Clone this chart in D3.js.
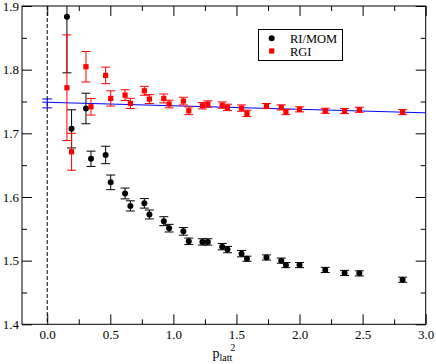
<!DOCTYPE html>
<html>
<head>
<meta charset="utf-8">
<script src="https://cdn.jsdelivr.net/npm/d3@7"></script>
<style>
  body { margin: 0; background: #fff; }
  svg { display: block; }
  text { font-family: "Liberation Serif", "Times New Roman", serif; fill: #000; }
</style>
</head>
<body>
<svg id="chart"></svg>
<script>
//================ DATA =========================
// p_latt^2 positions shared by both data sets
const pLatt2 = [0.156, 0.193, 0.307, 0.347, 0.463, 0.503, 0.617, 0.659, 0.770, 0.810,
                0.924, 0.966, 1.079, 1.122, 1.230, 1.273, 1.387, 1.429, 1.540, 1.583,
                1.738, 1.855, 1.892, 2.000, 2.204, 2.357, 2.474, 2.817];

const momY = [1.883, 1.707, 1.739, 1.660, 1.666, 1.623, 1.6055, 1.586, 1.590, 1.5725,
              1.562, 1.551, 1.546, 1.5305, 1.5294, 1.5294, 1.522, 1.5174, 1.511, 1.503,
              1.505, 1.500, 1.493, 1.493, 1.4854, 1.4807, 1.480, 1.470];
const momErr = [0.088, 0.030, 0.024, 0.012, 0.0137, 0.0115, 0.0085, 0.008, 0.0075, 0.007,
                0.007, 0.006, 0.006, 0.005, 0.005, 0.005, 0.005, 0.005, 0.005, 0.004,
                0.004, 0.004, 0.004, 0.004, 0.004, 0.004, 0.004, 0.004];

const rgiY = [1.7716, 1.671, 1.8046, 1.7417, 1.791, 1.7548, 1.760, 1.747, 1.7668, 1.7538,
              1.7548, 1.746, 1.7506, 1.7354, 1.7433, 1.746, 1.7443, 1.7407, 1.7396, 1.7313,
              1.7428, 1.7407, 1.7333, 1.7376, 1.7354, 1.7349, 1.737, 1.7333];
const rgiErr = [0.083, 0.029, 0.024, 0.013, 0.013, 0.012, 0.0084, 0.008, 0.007, 0.007,
                0.007, 0.006, 0.006, 0.006, 0.005, 0.005, 0.005, 0.005, 0.005, 0.005,
                0.004, 0.004, 0.004, 0.004, 0.004, 0.004, 0.004, 0.004];

// linear fit of RGI and its extrapolation to p^2 = 0
const fitX = [-0.04, 3.0];
const fitY = [1.7490, 1.7322];
const extrap = {x: 0, y: 1.747, err: 0.007};

const xTicks = [0.0, 0.5, 1.0, 1.5, 2.0, 2.5, 3.0];
const yTicks = [1.4, 1.5, 1.6, 1.7, 1.8, 1.9];
const legendLabels = ['RI/MOM', 'RGI'];

//================ SETUP =========================
const width = 436, height = 364;
const plotL = 22, plotR = 425.7, plotT = 6, plotB = 324.3;

const svg = d3.select('#chart').attr('width', width).attr('height', height);

const x = d3.scaleLinear().domain([-0.2, 3.0]).range([plotL, plotR]);
const y = d3.scaleLinear().domain([1.4, 1.9]).range([plotB, plotT]);

const fmt = d3.format('.1f');
const xMinor = [0.25, 0.75, 1.25, 1.75, 2.25, 2.75];
const yMinor = [1.45, 1.55, 1.65, 1.75, 1.85];

//--------- ticks (pointing inward, mirrored on top/right)
function axisGroup(axis, tx, ty) {
  const g = svg.append('g').attr('transform', `translate(${tx},${ty})`).call(axis);
  g.select('.domain').remove();
  g.selectAll('line').attr('stroke', '#000');
  g.selectAll('text').style('font-size', '13px').style('font-family', '"Liberation Serif", "Times New Roman", serif');
  return g;
}
axisGroup(d3.axisBottom(x).tickValues(xTicks).tickFormat(fmt).tickSizeInner(-10).tickPadding(5.5), 0, plotB);
axisGroup(d3.axisBottom(x).tickValues(xMinor).tickFormat('').tickSizeInner(-5), 0, plotB);
axisGroup(d3.axisTop(x).tickValues(xTicks).tickFormat('').tickSizeInner(-10), 0, plotT);
axisGroup(d3.axisTop(x).tickValues(xMinor).tickFormat('').tickSizeInner(-5), 0, plotT);
axisGroup(d3.axisLeft(y).tickValues(yTicks).tickFormat(fmt).tickSizeInner(-10).tickPadding(3), plotL, 0);
axisGroup(d3.axisLeft(y).tickValues(yMinor).tickFormat('').tickSizeInner(-5), plotL, 0);
axisGroup(d3.axisRight(y).tickValues(yTicks).tickFormat('').tickSizeInner(-10), plotR, 0);
axisGroup(d3.axisRight(y).tickValues(yMinor).tickFormat('').tickSizeInner(-5), plotR, 0);

//--------- frame
svg.append('rect')
  .attr('x', plotL).attr('y', plotT)
  .attr('width', plotR - plotL).attr('height', plotB - plotT)
  .attr('fill', 'none').attr('stroke', '#000').attr('stroke-width', 1);

//--------- dashed zero line
svg.append('line')
  .attr('x1', x(0)).attr('x2', x(0))
  .attr('y1', plotT).attr('y2', plotB)
  .attr('stroke', '#000').attr('stroke-dasharray', '4,2');

svg.append('clipPath').attr('id', 'clip')
  .append('rect').attr('x', plotL).attr('y', plotT).attr('width', plotR - plotL).attr('height', plotB - plotT);
const plot = svg.append('g').attr('clip-path', 'url(#clip)');

//--------- error bars
function errorBars(ys, errs, color) {
  const cap = 4.5;
  const g = plot.append('g').attr('stroke', color).attr('fill', 'none');
  pLatt2.forEach((px, i) => {
    const cx = x(px), y0 = y(ys[i] - errs[i]), y1 = y(ys[i] + errs[i]);
    g.append('line').attr('x1', cx).attr('x2', cx).attr('y1', y0).attr('y2', y1);
    g.append('line').attr('x1', cx - cap).attr('x2', cx + cap).attr('y1', y0).attr('y2', y0);
    g.append('line').attr('x1', cx - cap).attr('x2', cx + cap).attr('y1', y1).attr('y2', y1);
  });
}

//--------- fit line + extrapolated point
plot.append('path')
  .datum(fitX.map((v, i) => [v, fitY[i]]))
  .attr('d', d3.line().x(d => x(d[0])).y(d => y(d[1])))
  .attr('stroke', '#0000ff').attr('fill', 'none').attr('stroke-width', 1);

const eg = plot.append('g').attr('stroke', '#0000ff');
eg.append('line').attr('x1', x(extrap.x)).attr('x2', x(extrap.x))
  .attr('y1', y(extrap.y - extrap.err)).attr('y2', y(extrap.y + extrap.err));
[extrap.y - extrap.err, extrap.y + extrap.err].forEach(v => {
  eg.append('line').attr('x1', x(extrap.x) - 5).attr('x2', x(extrap.x) + 5)
    .attr('y1', y(v)).attr('y2', y(v));
});

errorBars(momY, momErr, '#000');
errorBars(rgiY, rgiErr, '#ff0000');

//--------- markers
plot.append('g').selectAll('circle')
  .data(pLatt2)
  .join('circle')
    .attr('cx', d => x(d))
    .attr('cy', (d, i) => y(momY[i]))
    .attr('r', 3)
    .attr('fill', '#000');

plot.append('g').selectAll('rect')
  .data(pLatt2)
  .join('rect')
    .attr('x', d => x(d) - 2.6)
    .attr('y', (d, i) => y(rgiY[i]) - 2.6)
    .attr('width', 5.2).attr('height', 5.2)
    .attr('fill', '#ff0000');

//--------- legend
const lg = svg.append('g');
lg.append('rect')
  .attr('x', 258.5).attr('y', 29.5).attr('width', 84).attr('height', 31)
  .attr('fill', '#fff').attr('stroke', '#000');
lg.append('circle').attr('cx', 271.7).attr('cy', 38.3).attr('r', 3).attr('fill', '#000');
lg.append('rect').attr('x', 269.1).attr('y', 48.4).attr('width', 5.2).attr('height', 5.2).attr('fill', '#ff0000');
lg.selectAll('text.leg')
  .data(legendLabels)
  .join('text')
    .attr('class', 'leg')
    .attr('x', 290)
    .attr('y', (d, i) => 43 + i * 12.6)
    .style('font-size', '12.5px')
    .text(d => d);

//--------- x axis label p_latt^2
const xl = svg.append('text').attr('y', 358);
xl.append('tspan').attr('x', 212.5).style('font-size', '14px').text('p');
xl.append('tspan').attr('dy', 2.5).style('font-size', '10px').text('latt');
svg.append('text').attr('x', 230.5).attr('y', 350.5).style('font-size', '9.5px').text('2');
</script>
</body>
</html>
